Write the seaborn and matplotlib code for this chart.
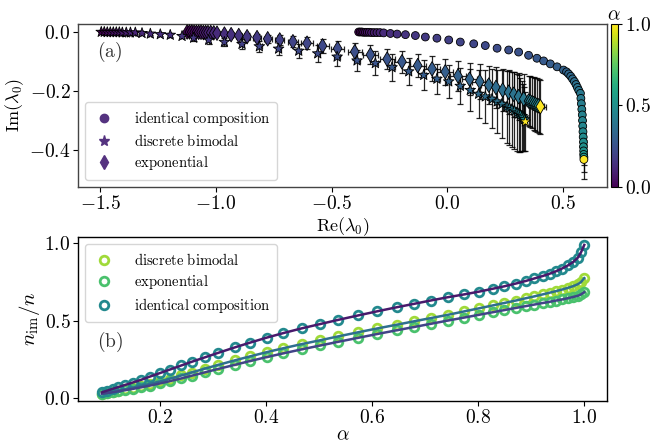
import matplotlib
matplotlib.use("Agg")
import matplotlib.pyplot as plt
import seaborn as sns
import numpy as np
import pandas as pd
from matplotlib.lines import Line2D
from matplotlib.ticker import FuncFormatter
from matplotlib.cm import ScalarMappable
from matplotlib.colors import Normalize

# ---------------- panel (a): eigenvalue trajectories ----------------
circ_re = [-0.383, -0.376, -0.369, -0.362, -0.354, -0.346, -0.337, -0.327, -0.316, -0.304, -0.291,
           -0.275, -0.246, -0.217, -0.181, -0.138, -0.095, -0.045, 0.006, 0.056, 0.114,
           0.164, 0.215, 0.265, 0.308, 0.351, 0.387, 0.416, 0.445, 0.474, 0.502,
           0.515, 0.524, 0.533, 0.541, 0.549, 0.556, 0.562, 0.568,
           0.575, 0.577, 0.579, 0.581, 0.583, 0.584, 0.585, 0.586, 0.587, 0.588,
           0.588, 0.589, 0.589, 0.590, 0.590]
circ_im = [0.000, 0.000, 0.000, -0.001, -0.001, -0.001, -0.001, -0.002, -0.002, -0.002, -0.002,
           -0.003, -0.005, -0.007, -0.009, -0.012, -0.017, -0.021, -0.027, -0.034, -0.040,
           -0.046, -0.055, -0.061, -0.068, -0.079, -0.089, -0.098, -0.108, -0.118, -0.129,
           -0.135, -0.142, -0.150, -0.159, -0.168, -0.178, -0.188, -0.198,
           -0.208, -0.225, -0.243, -0.262, -0.281, -0.300, -0.319, -0.338, -0.356, -0.373,
           -0.389, -0.403, -0.415, -0.424, -0.432]
circ_err = [0.001, 0.001, 0.001, 0.001, 0.001, 0.001, 0.001, 0.001, 0.001, 0.001, 0.001,
            0.002, 0.002, 0.002, 0.002, 0.002, 0.002, 0.002, 0.002, 0.002, 0.002,
            0.002, 0.002, 0.002, 0.002, 0.002, 0.002, 0.002, 0.002, 0.002, 0.002,
            0.002, 0.002, 0.002, 0.002, 0.002, 0.002, 0.002, 0.002,
            0.003, 0.003, 0.003, 0.003, 0.003, 0.003, 0.003, 0.004, 0.004, 0.005,
            0.010, 0.020, 0.035, 0.050, 0.065]
circ_alpha = [0.00, 0.01, 0.02, 0.03, 0.04, 0.05, 0.06, 0.07, 0.08, 0.09, 0.10,
              0.12, 0.13, 0.14, 0.15, 0.16, 0.17, 0.18, 0.19, 0.20, 0.21,
              0.22, 0.23, 0.24, 0.25, 0.26, 0.27, 0.28, 0.29, 0.30, 0.31,
              0.32, 0.33, 0.34, 0.35, 0.36, 0.37, 0.38, 0.39,
              0.40, 0.41, 0.42, 0.43, 0.44, 0.45, 0.46, 0.47, 0.48, 0.49,
              0.50, 0.51, 0.52, 0.53, 1.00]

star_re = [-1.495, -1.482, -1.469, -1.456, -1.443, -1.430, -1.417, -1.404, -1.387, -1.369,
           -1.348, -1.319, -1.283, -1.240, -1.197, -1.146, -1.096, -1.031, -0.963, -0.887,
           -0.812, -0.729, -0.642, -0.560, -0.476, -0.390, -0.311, -0.239, -0.167, -0.102,
           -0.045, 0.006, 0.056, 0.099, 0.135, 0.164, 0.193, 0.215, 0.236, 0.258,
           0.268, 0.279, 0.290, 0.301, 0.309, 0.316, 0.323, 0.328, 0.333, 0.337]
star_im = [0.000, 0.000, -0.001, -0.001, -0.001, -0.001, -0.001, -0.002, -0.002, -0.002,
           -0.002, -0.004, -0.006, -0.008, -0.010, -0.014, -0.020, -0.027, -0.034, -0.041,
           -0.049, -0.057, -0.064, -0.073, -0.084, -0.097, -0.106, -0.120, -0.134, -0.146,
           -0.159, -0.168, -0.183, -0.197, -0.210, -0.219, -0.227, -0.236, -0.244, -0.253,
           -0.257, -0.262, -0.267, -0.273, -0.277, -0.281, -0.285, -0.290, -0.296, -0.304]
star_yerr = [0.001, 0.001, 0.001, 0.002, 0.002, 0.002, 0.002, 0.003, 0.003, 0.003,
             0.004, 0.004, 0.005, 0.006, 0.007, 0.008, 0.010, 0.012, 0.014, 0.016,
             0.018, 0.020, 0.024, 0.028, 0.032, 0.036, 0.040, 0.045, 0.047, 0.050,
             0.052, 0.055, 0.062, 0.070, 0.080, 0.090, 0.100, 0.108, 0.115, 0.122,
             0.125, 0.128, 0.130, 0.132, 0.130, 0.125, 0.120, 0.115, 0.108, 0.100]
star_xerr = [0.001, 0.001, 0.001, 0.001, 0.001, 0.002, 0.002, 0.002, 0.002, 0.002,
             0.003, 0.003, 0.004, 0.004, 0.005, 0.005, 0.006, 0.007, 0.008, 0.009,
             0.010, 0.010, 0.011, 0.011, 0.012, 0.012, 0.012, 0.012, 0.012, 0.012,
             0.012, 0.012, 0.011, 0.011, 0.010, 0.010, 0.009, 0.009, 0.008, 0.008,
             0.007, 0.007, 0.007, 0.006, 0.006, 0.006, 0.006, 0.005, 0.005, 0.005]
star_alpha = [0.00, 0.01, 0.02, 0.03, 0.04, 0.05, 0.06, 0.07, 0.08, 0.09,
              0.10, 0.11, 0.12, 0.13, 0.14, 0.15, 0.16, 0.17, 0.18, 0.19,
              0.20, 0.21, 0.22, 0.23, 0.24, 0.25, 0.26, 0.27, 0.28, 0.29,
              0.30, 0.31, 0.32, 0.33, 0.34, 0.35, 0.36, 0.37, 0.38, 0.39,
              0.40, 0.41, 0.42, 0.43, 0.44, 0.45, 0.46, 0.47, 0.48, 1.00]

dia_re = [-1.124, -1.114, -1.104, -1.094, -1.084, -1.074, -1.064, -1.054, -1.044, -1.034, -1.022, -1.009,
          -0.995, -0.963, -0.934, -0.901, -0.865, -0.822, -0.776, -0.724, -0.667, -0.606,
          -0.539, -0.474, -0.400, -0.332, -0.260, -0.196, -0.128, -0.066, -0.009, 0.046,
          0.096, 0.140, 0.179, 0.210, 0.239, 0.265, 0.287, 0.308, 0.330, 0.351,
          0.358, 0.366, 0.373, 0.380, 0.387, 0.394, 0.402]
dia_im = [0.000, 0.000, 0.000, -0.001, -0.001, -0.001, -0.001, -0.002, -0.002, -0.002, -0.002, -0.003,
          -0.004, -0.007, -0.009, -0.012, -0.016, -0.019, -0.023, -0.027, -0.033, -0.038,
          -0.047, -0.056, -0.067, -0.077, -0.092, -0.101, -0.114, -0.125, -0.135, -0.149,
          -0.160, -0.168, -0.180, -0.188, -0.197, -0.204, -0.211, -0.219, -0.227, -0.234,
          -0.236, -0.239, -0.242, -0.245, -0.248, -0.250, -0.253]
dia_yerr = [0.001, 0.001, 0.001, 0.001, 0.002, 0.002, 0.002, 0.002, 0.002, 0.003, 0.003, 0.003,
            0.005, 0.007, 0.008, 0.009, 0.011, 0.012, 0.014, 0.016, 0.018, 0.020,
            0.023, 0.026, 0.029, 0.032, 0.035, 0.037, 0.040, 0.042, 0.045, 0.050,
            0.055, 0.060, 0.064, 0.068, 0.071, 0.074, 0.077, 0.080, 0.083, 0.086,
            0.087, 0.088, 0.089, 0.090, 0.091, 0.091, 0.092]
dia_xerr = [0.001, 0.001, 0.001, 0.002, 0.002, 0.002, 0.002, 0.003, 0.003, 0.003, 0.004, 0.004,
            0.006, 0.008, 0.010, 0.012, 0.014, 0.016, 0.018, 0.020, 0.022, 0.024,
            0.026, 0.028, 0.030, 0.032, 0.033, 0.034, 0.035, 0.035, 0.035, 0.035,
            0.034, 0.033, 0.032, 0.031, 0.030, 0.029, 0.028, 0.027, 0.026, 0.025,
            0.025, 0.024, 0.024, 0.023, 0.023, 0.023, 0.023]
dia_alpha = [0.00, 0.01, 0.02, 0.03, 0.04, 0.05, 0.06, 0.07, 0.08, 0.09, 0.10, 0.11,
             0.12, 0.13, 0.14, 0.15, 0.16, 0.17, 0.18, 0.19, 0.20, 0.21,
             0.22, 0.23, 0.24, 0.25, 0.26, 0.27, 0.28, 0.29, 0.30, 0.31,
             0.32, 0.33, 0.34, 0.35, 0.36, 0.37, 0.38, 0.39, 0.40, 0.41,
             0.42, 0.43, 0.44, 0.45, 0.46, 0.47, 1.00]

# ---------------- panel (b): n_im / n versus alpha ----------------
alpha_b = [0.09, 0.10, 0.11, 0.12, 0.134, 0.148, 0.164, 0.18, 0.199, 0.218, 0.24, 0.259,
           0.284, 0.309, 0.341, 0.369, 0.401, 0.432, 0.467, 0.502, 0.536, 0.574, 0.609,
           0.647, 0.678, 0.71, 0.742, 0.774, 0.802, 0.827, 0.849, 0.871, 0.89, 0.906,
           0.922, 0.935, 0.947, 0.958, 0.969, 0.979, 0.988, 0.994, 1.0]
nim_bimodal = [0.028, 0.034, 0.040, 0.047, 0.056, 0.066, 0.078, 0.090, 0.106, 0.124, 0.145, 0.164,
               0.189, 0.213, 0.243, 0.268, 0.296, 0.321, 0.348, 0.373, 0.398, 0.425, 0.449,
               0.474, 0.495, 0.516, 0.537, 0.560, 0.580, 0.598, 0.614, 0.630, 0.645, 0.657,
               0.670, 0.681, 0.691, 0.701, 0.712, 0.723, 0.736, 0.750, 0.775]
nim_expo = [0.026, 0.031, 0.036, 0.042, 0.050, 0.058, 0.068, 0.079, 0.093, 0.108, 0.126, 0.143,
            0.165, 0.187, 0.214, 0.238, 0.264, 0.288, 0.314, 0.339, 0.363, 0.389, 0.413,
            0.438, 0.458, 0.479, 0.500, 0.520, 0.538, 0.554, 0.568, 0.582, 0.594, 0.604,
            0.614, 0.622, 0.630, 0.637, 0.645, 0.653, 0.661, 0.670, 0.684]
nim_ident = [0.036, 0.047, 0.058, 0.069, 0.084, 0.099, 0.117, 0.137, 0.160, 0.183, 0.210, 0.233,
             0.262, 0.291, 0.327, 0.357, 0.390, 0.419, 0.450, 0.478, 0.505, 0.534, 0.560,
             0.587, 0.608, 0.630, 0.651, 0.670, 0.688, 0.706, 0.722, 0.740, 0.757, 0.773,
             0.789, 0.804, 0.820, 0.837, 0.857, 0.879, 0.908, 0.943, 0.990]

labels_a = ["identical composition", "discrete bimodal", "exponential"]
labels_b = ["discrete bimodal", "exponential", "identical composition"]

# ---------------- style ----------------
plt.rcParams["mathtext.fontset"] = "cm"
plt.rcParams["font.family"] = ["DejaVu Serif"]


def mt(s):
    return r"$\mathrm{" + s.replace(" ", r"\ ") + "}$"


fmt = FuncFormatter(lambda v, p: ("$%.1f$" % v).replace("$-0.0$", "$0.0$"))

fig = plt.figure(figsize=(6.62, 4.45), dpi=100)
ax1 = fig.add_axes([0.118, 0.580, 0.799, 0.366])
ax2 = fig.add_axes([0.118, 0.099, 0.799, 0.368])
cax = fig.add_axes([0.9225, 0.580, 0.0105, 0.366])

cmap = "viridis"
norm = (0, 1)

# error bars (behind markers)
ekw = dict(fmt="none", ecolor="black", elinewidth=0.9, capsize=2.5, capthick=0.9, zorder=1, alpha=0.85)
ax1.errorbar(dia_re, dia_im, yerr=dia_yerr, xerr=dia_xerr, **ekw)
ax1.errorbar(star_re, star_im, yerr=star_yerr, xerr=star_xerr, **ekw)
ax1.errorbar(circ_re, circ_im, yerr=circ_err, **ekw)

sns.scatterplot(x=dia_re, y=dia_im, hue=dia_alpha, palette=cmap, hue_norm=norm, marker="d",
                s=55, edgecolor="black", linewidth=0.6, legend=False, ax=ax1, zorder=3)
sns.scatterplot(x=star_re, y=star_im, hue=star_alpha, palette=cmap, hue_norm=norm, marker="*",
                s=65, edgecolor="black", linewidth=0.6, legend=False, ax=ax1, zorder=4)
sns.scatterplot(x=circ_re, y=circ_im, hue=circ_alpha, palette=cmap, hue_norm=norm, marker="o",
                s=32, edgecolor="black", linewidth=0.6, legend=False, ax=ax1, zorder=5)

ax1.set_xlim(-1.595, 0.69)
ax1.set_ylim(-0.525, 0.027)
ax1.set_xticks([-1.5, -1.0, -0.5, 0.0, 0.5])
ax1.set_yticks([-0.4, -0.2, 0.0])
ax1.set_xlabel(r"$\mathrm{Re}(\lambda_0)$", fontsize=13, labelpad=2)
ax1.set_ylabel(r"$\mathrm{Im}(\lambda_0)$", fontsize=13, labelpad=2)
ax1.text(0.035, 0.80, mt("(a)"), transform=ax1.transAxes, fontsize=14, color="#333333")

purple = "#553380"
h_a = [Line2D([], [], ls="none", marker="o", ms=6, mfc=purple, mec=purple),
       Line2D([], [], ls="none", marker="*", ms=8, mfc=purple, mec=purple),
       Line2D([], [], ls="none", marker="d", ms=7, mfc=purple, mec=purple)]
ax1.legend(h_a, [mt(l) for l in labels_a], loc="lower left", fontsize=10.5,
           handletextpad=1.2, borderpad=0.5, labelspacing=0.35, framealpha=0.8,
           edgecolor="#cccccc", handlelength=1.6)

sm = ScalarMappable(norm=Normalize(0, 1), cmap=cmap)
cb = fig.colorbar(sm, cax=cax)
cb.set_ticks([0.0, 0.5, 1.0])
cb.ax.yaxis.set_major_formatter(fmt)
cb.ax.tick_params(labelsize=14, length=3, width=0.8, pad=2)
cb.outline.set_linewidth(0.8)
cax.set_title(r"$\alpha$", fontsize=14, pad=1)

# panel (b)
pt_cols = ["#a0da39", "#4ac16d", "#23898e"]
ln_cols = ["#2e6f8e", "#414487", "#481a6c"]
series_b = [nim_bimodal, nim_expo, nim_ident]
handles_b = []
for vals, pc, lab in zip(series_b, pt_cols, labels_b):
    h, = ax2.plot(alpha_b, vals, ls="none", marker="o", ms=6.2, mfc="none", mec=pc, mew=2.0,
                  zorder=2, label=mt(lab))
    handles_b.append(h)
for vals, lc in zip(series_b, ln_cols):
    sns.lineplot(x=alpha_b, y=vals, color=lc, lw=1.8, ax=ax2, zorder=3, legend=False)

ax2.set_xlim(0.045, 1.043)
ax2.set_ylim(-0.02, 1.04)
ax2.set_xticks([0.2, 0.4, 0.6, 0.8, 1.0])
ax2.set_yticks([0.0, 0.5, 1.0])
ax2.set_xlabel(r"$\alpha$", fontsize=14, labelpad=0)
ax2.set_ylabel(r"$n_{\mathrm{im}}/n$", fontsize=15, labelpad=2)
ax2.text(0.035, 0.33, mt("(b)"), transform=ax2.transAxes, fontsize=14, color="#333333")
ax2.legend(handles_b, [h.get_label() for h in handles_b], loc="upper left", fontsize=10.5,
           handletextpad=1.2, borderpad=0.5, labelspacing=0.35, framealpha=0.8,
           edgecolor="#cccccc", handlelength=1.6)

for ax, sc in ((ax1, "#444444"), (ax2, "black")):
    ax.xaxis.set_major_formatter(fmt)
    ax.yaxis.set_major_formatter(fmt)
    ax.tick_params(labelsize=14, length=3.5, width=0.8, pad=2)
    for s in ax.spines.values():
        s.set_color(sc)
        s.set_linewidth(1.0)

fig.savefig("out.png", dpi=100)
